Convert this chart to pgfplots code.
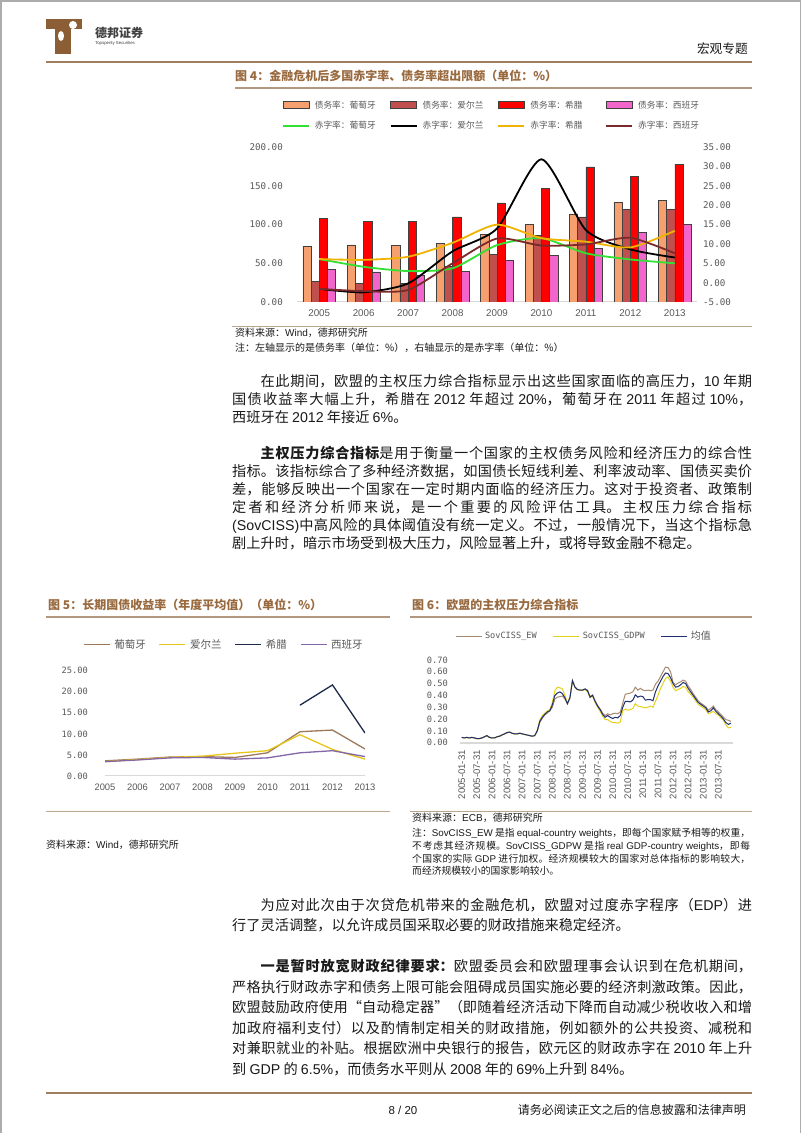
\documentclass[border=0pt]{standalone}
\usepackage{fontspec}
\setmainfont{Noto Sans CJK SC}
\newfontfamily\lat{Liberation Sans}
\newfontfamily\mono{DejaVu Sans Mono}
\usepackage{pgfplots}
\pgfplotsset{compat=1.18}
\usepackage{pgfplotstable}
\XeTeXlinebreaklocale "zh"
\XeTeXlinebreakskip=0pt plus 3pt minus 0.3pt
\setlength{\parindent}{0pt}

\definecolor{cHead}{HTML}{9E7E5E}
\definecolor{cTitle}{HTML}{9A6A3F}
\definecolor{cTick}{HTML}{595959}
\definecolor{cAxis}{HTML}{D9D9D9}
\definecolor{cLogo}{HTML}{8C5E36}
\definecolor{cBody}{HTML}{1A1A1A}
\definecolor{bPT}{HTML}{F5A06E}
\definecolor{bIE}{HTML}{C0504D}
\definecolor{bGR}{HTML}{FF0000}
\definecolor{bES}{HTML}{F266CC}
\definecolor{lPT}{HTML}{33E033}
\definecolor{lIE}{HTML}{000000}
\definecolor{lGR}{HTML}{F0B400}
\definecolor{lES}{HTML}{7A2A2A}
\definecolor{yPT}{HTML}{9C785A}
\definecolor{yIE}{HTML}{E6C619}
\definecolor{yGR}{HTML}{1C2B4A}
\definecolor{yES}{HTML}{8466A8}
\definecolor{sEW}{HTML}{A88A72}
\definecolor{sGD}{HTML}{E5D21A}
\definecolor{sAV}{HTML}{1F2F70}

\pgfplotsset{
  barleg/.style={legend image code/.code={\draw[##1] (0pt,-3.5pt) rectangle (26pt,3.5pt);}},
  lineleg/.style={legend image code/.code={\draw[##1] (0pt,0pt) -- (26pt,0pt);}},
}
\newcommand{\bodyfont}{\fontsize{14.2}{18}\selectfont}
\newcommand{\bodyfontb}{\fontsize{14.2}{20.5}\selectfont}
\newcommand{\notefont}{\fontsize{10}{12}\selectfont}

\pgfplotstableread{
m A E G
0 0.045 0.045 0.045
1 0.040 0.040 0.040
2 0.045 0.045 0.045
3 0.040 0.040 0.040
4 0.045 0.045 0.045
5 0.040 0.040 0.040
6 0.035 0.035 0.035
7 0.035 0.035 0.035
8 0.040 0.040 0.040
9 0.050 0.050 0.050
10 0.060 0.060 0.060
11 0.045 0.045 0.045
12 0.040 0.040 0.040
13 0.040 0.040 0.040
14 0.050 0.050 0.050
15 0.055 0.055 0.055
16 0.065 0.065 0.065
17 0.075 0.075 0.075
18 0.085 0.085 0.085
19 0.090 0.090 0.090
20 0.080 0.080 0.080
21 0.075 0.075 0.075
22 0.075 0.075 0.075
23 0.080 0.080 0.080
24 0.075 0.075 0.075
25 0.070 0.070 0.070
26 0.065 0.065 0.065
27 0.060 0.060 0.060
28 0.055 0.055 0.055
29 0.060 0.060 0.060
30 0.100 0.095 0.105
31 0.180 0.170 0.190
32 0.215 0.205 0.230
33 0.240 0.235 0.250
34 0.260 0.250 0.270
35 0.270 0.270 0.280
36 0.320 0.300 0.340
37 0.400 0.370 0.440
38 0.420 0.385 0.470
39 0.430 0.390 0.465
40 0.415 0.395 0.455
41 0.380 0.370 0.400
42 0.330 0.330 0.330
43 0.380 0.380 0.385
44 0.525 0.525 0.525
45 0.470 0.470 0.470
46 0.450 0.450 0.450
47 0.445 0.445 0.445
48 0.445 0.445 0.440
49 0.455 0.455 0.450
50 0.440 0.445 0.430
51 0.385 0.390 0.380
52 0.400 0.405 0.395
53 0.350 0.355 0.340
54 0.310 0.315 0.300
55 0.280 0.285 0.265
56 0.240 0.250 0.225
57 0.215 0.230 0.195
58 0.230 0.245 0.195
59 0.215 0.235 0.180
60 0.205 0.245 0.170
61 0.215 0.250 0.170
62 0.210 0.245 0.165
63 0.230 0.260 0.175
64 0.300 0.335 0.270
65 0.350 0.410 0.285
66 0.350 0.415 0.275
67 0.345 0.420 0.280
68 0.360 0.430 0.290
69 0.405 0.470 0.330
70 0.385 0.445 0.310
71 0.395 0.460 0.305
72 0.390 0.445 0.300
73 0.360 0.440 0.295
74 0.365 0.445 0.300
75 0.365 0.440 0.310
76 0.355 0.445 0.300
77 0.430 0.495 0.350
78 0.480 0.520 0.400
79 0.520 0.560 0.460
80 0.560 0.600 0.500
81 0.590 0.640 0.545
82 0.585 0.635 0.555
83 0.550 0.600 0.520
84 0.500 0.510 0.470
85 0.470 0.490 0.440
86 0.475 0.505 0.450
87 0.490 0.515 0.460
88 0.510 0.530 0.475
89 0.500 0.520 0.470
90 0.460 0.480 0.430
91 0.430 0.450 0.410
92 0.400 0.415 0.385
93 0.370 0.385 0.355
94 0.340 0.355 0.325
95 0.325 0.335 0.310
96 0.310 0.320 0.295
97 0.295 0.305 0.280
98 0.260 0.275 0.245
99 0.270 0.290 0.255
100 0.295 0.310 0.265
101 0.265 0.280 0.245
102 0.245 0.260 0.235
103 0.225 0.240 0.210
104 0.200 0.215 0.190
105 0.170 0.195 0.150
106 0.155 0.190 0.125
107 0.165 0.180 0.130
}\sovdata

\begin{document}
\begin{tikzpicture}[x=1pt,y=1pt]
\path[use as bounding box] (0,0) rectangle (802,1133);
\fill[white] (0,0) rectangle (802,1133);
\draw[gray!65, line width=1.5pt] (1,0) -- (1,1132.2) -- (800.5,1132.2) -- (800.5,0);

% ---------- header ----------
\fill[cLogo] (46,{1133-19}) rectangle (82,{1133-29});
\fill[cLogo] (55,{1133-29}) rectangle (71,{1133-54});
\fill[white] (73,{1133-25}) circle (4);
\fill[white] (61,{1133-36}) ellipse (3 and 5);
\node[anchor=west, inner sep=0pt, font=\bfseries\fontsize{12}{12}\selectfont, text=black!75] at (95,{1133-33}) {德邦证券};
\node[anchor=west, inner sep=0pt, font=\lat\fontsize{4.3}{5}\selectfont, text=black!75] at (95,{1133-43.5}) {Topsperity Securities};
\node[anchor=east, inner sep=0pt, font=\fontsize{12.7}{13}\selectfont, text=cBody] at (748,{1133-49}) {宏观专题};
\draw[cHead, line width=2.5pt] (46,{1133-62}) -- (752,{1133-62});

% ---------- figure 4 ----------
\node[anchor=west, inner sep=0pt, font=\bfseries\fontsize{12}{12}\selectfont, text=cTitle] at (235,{1133-76}) {图 4：金融危机后多国赤字率、债务率超出限额（单位：\%）};
\draw[cHead!80, line width=1.6pt] (235,{1133-88.3}) -- (752,{1133-88.3});

\begin{axis}[
  at={(297pt,831pt)}, anchor=south west, scale only axis,
  width=400pt, height=154.7pt,
  xmin=-0.5, xmax=8.5, ymin=0, ymax=200,
  axis lines*=left, axis line style={-},
  y axis line style={draw=none},
  x axis line style={draw=cAxis, line width=1pt},
  tick style={draw=none},
  xtick={0,1,2,3,4,5,6,7,8},
  xticklabels={2005,2006,2007,2008,2009,2010,2011,2012,2013},
  xticklabel style={font=\lat\fontsize{9.8}{10}\selectfont, text=cTick, anchor=base, yshift=-14.5pt, inner sep=0pt},
  ytick={0,50,100,150,200},
  yticklabels={0.00,50.00,100.00,150.00,200.00},
  yticklabel style={font=\mono\fontsize{9.2}{10}\selectfont, text=cTick, anchor=east, xshift=-14pt, inner sep=0pt},
]
\addplot[ybar, bar width=8.2pt, bar shift=-12.3pt, fill=bPT, draw=black!75, line width=0.5pt] coordinates {(0,72.3) (1,74.0) (2,73.0) (3,75.8) (4,87.4) (5,100.4) (6,114.0) (7,129.0) (8,131.4)};
\addplot[ybar, bar width=8.2pt, bar shift=-4.1pt, fill=bIE, draw=black!75, line width=0.5pt] coordinates {(0,26.2) (1,24.0) (2,24.5) (3,45.6) (4,61.6) (5,86.0) (6,110.0) (7,119.7) (8,119.7)};
\addplot[ybar, bar width=8.2pt, bar shift=4.1pt, fill=bGR, draw=black!75, line width=0.5pt] coordinates {(0,108.0) (1,104.6) (2,103.8) (3,110.0) (4,128.0) (5,147.3) (6,174.8) (7,162.4) (8,178.3)};
\addplot[ybar, bar width=8.2pt, bar shift=12.3pt, fill=bES, draw=black!75, line width=0.5pt] coordinates {(0,42.0) (1,38.8) (2,35.0) (3,39.6) (4,53.4) (5,60.3) (6,69.8) (7,90.0) (8,100.4)};
\end{axis}

\begin{axis}[
  at={(297pt,831pt)}, anchor=south west, scale only axis,
  width=400pt, height=154.7pt,
  xmin=-0.5, xmax=8.5, ymin=-5, ymax=35,
  axis y line*=right, axis x line=none, axis line style={-},
  y axis line style={draw=none},
  tick style={draw=none},
  xtick=\empty,
  ytick={-5,0,5,10,15,20,25,30,35},
  yticklabels={-5.00,0.00,5.00,10.00,15.00,20.00,25.00,30.00,35.00},
  yticklabel style={font=\mono\fontsize{9.2}{10}\selectfont, text=cTick, anchor=west, xshift=6pt, inner sep=0pt},
  legend columns=4,
  legend cell align=left,
  legend style={at={(axis description cs:-0.0375,1.301)}, anchor=north west, draw=none, fill=none, inner sep=0pt, outer sep=0pt, column sep=0pt, row sep=12pt, font=\fontsize{8.7}{9}\selectfont, text=cTick, nodes={inner sep=0pt}},
]
\addlegendimage{barleg, fill=bPT, draw=black!75, line width=0.6pt}
\addlegendentry{\hspace{5pt}\makebox[75pt][l]{债务率：葡萄牙}}
\addlegendimage{barleg, fill=bIE, draw=black!75, line width=0.6pt}
\addlegendentry{\hspace{5pt}\makebox[75pt][l]{债务率：爱尔兰}}
\addlegendimage{barleg, fill=bGR, draw=black!75, line width=0.6pt}
\addlegendentry{\hspace{5pt}\makebox[75pt][l]{债务率：希腊}}
\addlegendimage{barleg, fill=bES, draw=black!75, line width=0.6pt}
\addlegendentry{\hspace{5pt}\makebox[75pt][l]{债务率：西班牙}}
\addplot[lPT, line width=1.8pt, smooth, tension=0.4, lineleg] coordinates {(0,6.1) (1,4.1) (2,3.0) (3,3.7) (4,9.7) (5,11.5) (6,7.6) (7,6.0) (8,5.0)};
\addlegendentry{\hspace{5pt}\makebox[75pt][l]{赤字率：葡萄牙}}
\addplot[lIE, line width=1.8pt, smooth, tension=0.4, lineleg] coordinates {(0,-1.6) (1,-2.5) (2,-0.2) (3,8.1) (4,14.0) (5,31.9) (6,13.6) (7,8.6) (8,6.5)};
\addlegendentry{\hspace{5pt}\makebox[75pt][l]{赤字率：爱尔兰}}
\addplot[lGR, line width=1.8pt, smooth, tension=0.4, lineleg] coordinates {(0,6.1) (1,5.9) (2,6.7) (3,10.3) (4,15.0) (5,11.5) (6,10.6) (7,9.1) (8,13.4)};
\addlegendentry{\hspace{5pt}\makebox[75pt][l]{赤字率：希腊}}
\addplot[lES, line width=1.8pt, smooth, tension=0.4, lineleg] coordinates {(0,-1.6) (1,-2.2) (2,-1.9) (3,5.0) (4,11.4) (5,9.6) (6,9.9) (7,11.6) (8,7.6)};
\addlegendentry{\hspace{5pt}\makebox[75pt][l]{赤字率：西班牙}}
\end{axis}

\draw[cHead!70, line width=0.8pt] (232,{1133-326}) -- (752,{1133-326});
\node[anchor=west, inner sep=0pt, font=\notefont, text=cBody] at (235,{1133-333.3}) {资料来源：{\lat Wind}，德邦研究所};
\node[anchor=west, inner sep=0pt, font=\notefont, text=cBody] at (235,{1133-348}) {注：左轴显示的是债务率（单位：\%），右轴显示的是赤字率（单位：\%）};

% ---------- paragraphs (top) ----------
\node[anchor=base west, inner sep=0pt, text width=520pt, align=justify, font=\bodyfont, text=cBody] at (232,{1133-386.9}) {\hspace*{2em}在此期间，欧盟的主权压力综合指标显示出这些国家面临的高压力，{\lat 10} 年期\linebreak 国债收益率大幅上升，希腊在 {\lat 2012} 年超过 {\lat 20\%}，葡萄牙在 {\lat 2011} 年超过 {\lat 10\%}，\linebreak 西班牙在 {\lat 2012} 年接近 {\lat 6\%}。};

\node[anchor=base west, inner sep=0pt, text width=520pt, align=justify, font=\bodyfont, text=cBody] at (232,{1133-458.9}) {\hspace*{2em}{\bfseries 主权压力综合指标}是用于衡量一个国家的主权债务风险和经济压力的综合性\linebreak 指标。该指标综合了多种经济数据，如国债长短线利差、利率波动率、国债买卖价\linebreak 差，能够反映出一个国家在一定时期内面临的经济压力。这对于投资者、政策制\linebreak 定者和经济分析师来说，是一个重要的风险评估工具。主权压力综合指标\linebreak {\lat (SovCISS)}中高风险的具体阈值没有统一定义。不过，一般情况下，当这个指标急\linebreak 剧上升时，暗示市场受到极大压力，风险显著上升，或将导致金融不稳定。};

% ---------- figure 5 ----------
\node[anchor=west, inner sep=0pt, font=\bfseries\fontsize{12}{12}\selectfont, text=cTitle] at (48,{1133-605}) {图 5：长期国债收益率（年度平均值）（单位：\%）};
\draw[cHead!80, line width=1.6pt] (46,{1133-617.3}) -- (390,{1133-617.3});

\begin{axis}[
  at={(105pt,357pt)}, anchor=south west, scale only axis,
  width=260pt, height=105.4pt,
  xmin=0, xmax=8, ymin=0, ymax=25,
  axis lines*=left, axis line style={-},
  y axis line style={draw=none},
  x axis line style={draw=cAxis, line width=1pt},
  tick style={draw=none},
  xtick={0,1,2,3,4,5,6,7,8},
  xticklabels={2005,2006,2007,2008,2009,2010,2011,2012,2013},
  xticklabel style={font=\lat\fontsize{9.4}{10}\selectfont, text=cTick, anchor=base, yshift=-14.4pt, inner sep=0pt},
  ytick={0,5,10,15,20,25},
  yticklabels={0.00,5.00,10.00,15.00,20.00,25.00},
  yticklabel style={font=\mono\fontsize{8.7}{10}\selectfont, text=cTick, anchor=east, xshift=-17pt, inner sep=0pt},
  legend columns=4,
  legend cell align=left,
  legend style={at={(axis description cs:-0.0846,1.248)}, anchor=west, draw=none, fill=none, inner sep=0pt, outer sep=0pt, font=\fontsize{10.5}{11}\selectfont, text=cTick, nodes={inner sep=0pt}, /tikz/every even column/.append style={column sep=13pt}},
]
\addplot[yPT, line width=1.3pt, lineleg] coordinates {(0,3.6) (1,4.0) (2,4.5) (3,4.6) (4,4.4) (5,5.5) (6,10.5) (7,10.9) (8,6.4)};
\addlegendentry{\hspace{4pt}葡萄牙}
\addplot[yIE, line width=1.3pt, lineleg] coordinates {(0,3.4) (1,3.9) (2,4.4) (3,4.7) (4,5.4) (5,6.0) (6,9.8) (7,6.3) (8,4.0)};
\addlegendentry{\hspace{4pt}爱尔兰}
\addplot[yGR, line width=1.3pt, lineleg] coordinates {(6,16.8) (7,21.6) (8,10.2)};
\addlegendentry{\hspace{4pt}希腊}
\addplot[yES, line width=1.3pt, lineleg] coordinates {(0,3.4) (1,3.8) (2,4.3) (3,4.4) (4,4.0) (5,4.3) (6,5.5) (7,6.0) (8,4.6)};
\addlegendentry{\hspace{4pt}西班牙}
\end{axis}

\draw[cHead!70, line width=0.8pt] (46,{1133-811.7}) -- (390,{1133-811.7});
\node[anchor=west, inner sep=0pt, font=\notefont, text=cBody] at (46,{1133-845}) {资料来源：{\lat Wind}，德邦研究所};

% ---------- figure 6 ----------
\node[anchor=west, inner sep=0pt, font=\bfseries\fontsize{12}{12}\selectfont, text=cTitle] at (412,{1133-605}) {图 6：欧盟的主权压力综合指标};
\draw[cHead!80, line width=1.6pt] (410,{1133-617.3}) -- (752,{1133-617.3});

\begin{axis}[
  at={(460pt,390.3pt)}, anchor=south west, scale only axis,
  width=273.2pt, height=82.7pt,
  xmin=-0.7, xmax=107.9, ymin=0, ymax=0.7,
  axis lines*=left, axis line style={-},
  y axis line style={draw=none},
  x axis line style={draw=cAxis, line width=2.2pt},
  tick style={draw=none},
  xtick={0,6,12,18,24,30,36,42,48,54,60,66,72,78,84,90,96,102},
  xticklabels={2005-01-31,2005-07-31,2006-01-31,2006-07-31,2007-01-31,2007-07-31,2008-01-31,2008-07-31,2009-01-31,2009-07-31,2010-01-31,2010-07-31,2011-01-31,2011-07-31,2012-01-31,2012-07-31,2013-01-31,2013-07-31},
  xticklabel style={font=\lat\fontsize{9.6}{10}\selectfont, text=cTick, yshift=-7.3pt, rotate=90, anchor=east, inner sep=0pt},
  ytick={0,0.1,0.2,0.3,0.4,0.5,0.6,0.7},
  yticklabels={0.00,0.10,0.20,0.30,0.40,0.50,0.60,0.70},
  yticklabel style={font=\mono\fontsize{8.7}{10}\selectfont, text=cTick, anchor=east, xshift=-12pt, inner sep=0pt},
  legend columns=3,
  legend cell align=left,
  legend style={at={(axis description cs:-0.0183,1.29)}, anchor=west, draw=none, fill=none, inner sep=0pt, outer sep=0pt, font=\fontsize{10}{11}\selectfont, text=cTick, nodes={inner sep=0pt}, /tikz/every even column/.append style={column sep=16pt}},
]
\addplot[sEW, line width=1pt, lineleg] table[x=m,y=E]{\sovdata};
\addlegendentry{\hspace{3pt}{\mono\fontsize{8.6}{10}\selectfont SovCISS\_EW}}
\addplot[sGD, line width=1pt, lineleg] table[x=m,y=G]{\sovdata};
\addlegendentry{\hspace{3pt}{\mono\fontsize{8.6}{10}\selectfont SovCISS\_GDPW}}
\addplot[sAV, line width=1pt, lineleg] table[x=m,y=A]{\sovdata};
\addlegendentry{\hspace{3pt}均值}
\end{axis}

\draw[cHead!70, line width=0.8pt] (410,{1133-811.7}) -- (752,{1133-811.7});
\node[anchor=west, inner sep=0pt, font=\notefont, text=cBody] at (412,{1133-818}) {资料来源：{\lat ECB}，德邦研究所};
\node[anchor=base west, inner sep=0pt, text width=338pt, align=justify, font=\fontsize{9.8}{12.7}\selectfont, text=cBody] at (412,{1133-836.7}) {注：{\lat SovCISS\_EW} 是指 {\lat equal-country weights}，即每个国家赋予相等的权重，\linebreak 不考虑其经济规模。{\lat SovCISS\_GDPW} 是指 {\lat real GDP-country weights}，即每\linebreak 个国家的实际 {\lat GDP} 进行加权。经济规模较大的国家对总体指标的影响较大，\linebreak 而经济规模较小的国家影响较小。};

% ---------- paragraphs (bottom) ----------
\node[anchor=base west, inner sep=0pt, text width=520pt, align=justify, font=\bodyfontb, text=cBody] at (232,{1133-910.4}) {\hspace*{2em}为应对此次由于次贷危机带来的金融危机，欧盟对过度赤字程序（{\lat EDP}）进\linebreak 行了灵活调整，以允许成员国采取必要的财政措施来稳定经济。};

\node[anchor=base west, inner sep=0pt, text width=520pt, align=justify, font=\bodyfontb, text=cBody] at (232,{1133-971.9}) {\hspace*{2em}{\bfseries 一是暂时放宽财政纪律要求：}欧盟委员会和欧盟理事会认识到在危机期间，\linebreak 严格执行财政赤字和债务上限可能会阻碍成员国实施必要的经济刺激政策。因此，\linebreak 欧盟鼓励政府使用“自动稳定器”（即随着经济活动下降而自动减少税收收入和增\linebreak 加政府福利支付）以及酌情制定相关的财政措施，例如额外的公共投资、减税和\linebreak 对兼职就业的补贴。根据欧洲中央银行的报告，欧元区的财政赤字在 {\lat 2010} 年上升\linebreak 到 {\lat GDP} 的 {\lat 6.5\%}，而债务水平则从 {\lat 2008} 年的 {\lat 69\%}上升到 {\lat 84\%}。};

% ---------- footer ----------
\draw[cHead, line width=2pt] (46,{1133-1093}) -- (752,{1133-1093});
\node[inner sep=0pt, font=\lat\fontsize{11.5}{12}\selectfont, text=cBody] at (403,{1133-1110}) {8 / 20};
\node[anchor=east, inner sep=0pt, font=\fontsize{12}{12}\selectfont, text=cBody] at (746,{1133-1110}) {请务必阅读正文之后的信息披露和法律声明};
\end{tikzpicture}
\end{document}
